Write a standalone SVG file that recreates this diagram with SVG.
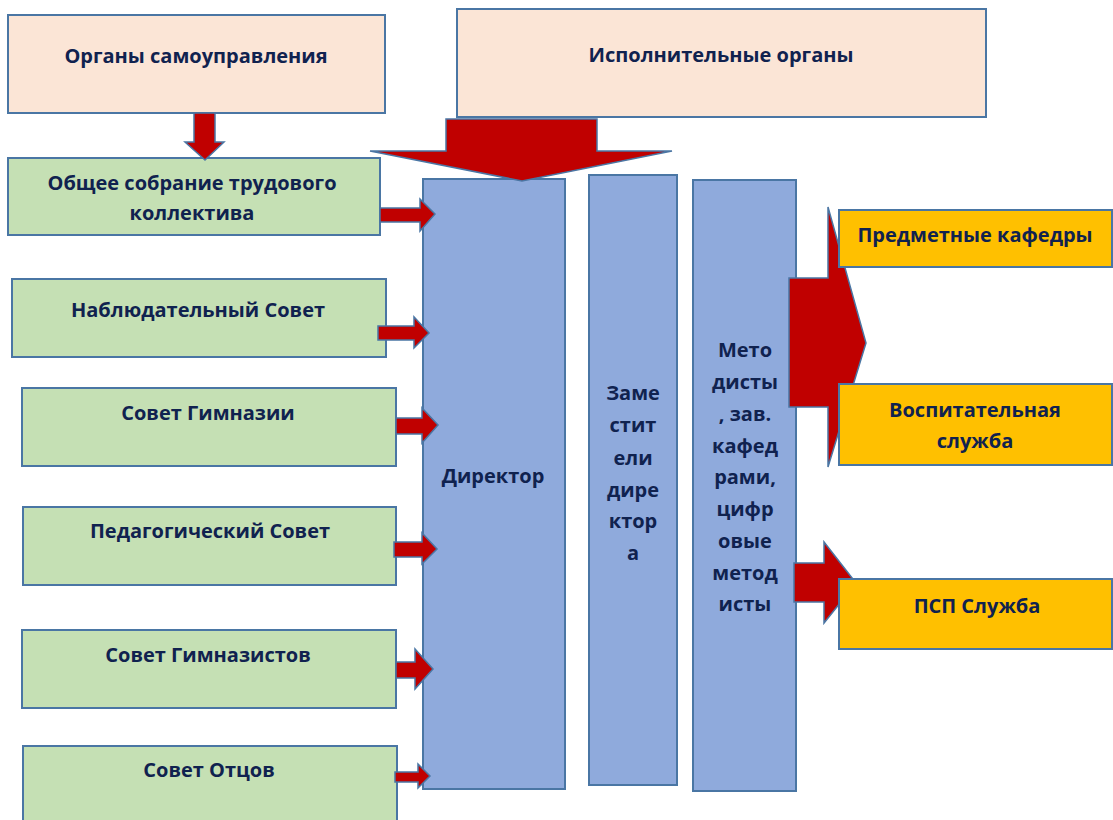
<svg xmlns="http://www.w3.org/2000/svg" width="1113" height="820" viewBox="0 0 1113 820">
<style>
.box{stroke:#4A76A4;stroke-width:2}
.peach{fill:#FBE5D6}
.green{fill:#C5E0B4}
.blue{fill:#8FAADC}
.orange{fill:#FFC000}
.arr{fill:#C00000;stroke:#4A76A4;stroke-width:1.5;stroke-linejoin:miter}
text{font-family:"Open Sans","Liberation Sans",sans-serif;font-weight:700;font-size:20px;fill:#10224F;text-anchor:middle}
</style>
<rect width="1113" height="820" fill="#FFFFFF"/>
<g id="n-organy">
<rect class="box peach" x="8" y="15" width="377" height="98"/>
<text x="196" y="63">Органы самоуправления</text>
</g>
<g id="n-ispoln">
<rect class="box peach" x="457" y="9" width="529" height="108"/>
<text x="721" y="62">Исполнительные органы</text>
</g>
<g id="n-obshee">
<rect class="box green" x="8" y="158" width="372" height="77"/>
<text x="192" y="190">Общее собрание трудового</text>
<text x="192" y="220">коллектива</text>
</g>
<g id="n-nabl">
<rect class="box green" x="12" y="279" width="374" height="78"/>
<text x="198" y="317">Наблюдательный Совет</text>
</g>
<g id="n-gimn">
<rect class="box green" x="22" y="388" width="374" height="78"/>
<text x="208" y="420">Совет Гимназии</text>
</g>
<g id="n-ped">
<rect class="box green" x="23" y="507" width="373" height="78"/>
<text x="210" y="538">Педагогический Совет</text>
</g>
<g id="n-gimnazisty">
<rect class="box green" x="22" y="630" width="374" height="78"/>
<text x="208" y="662">Совет Гимназистов</text>
</g>
<g id="n-otcy">
<rect class="box green" x="23" y="746" width="374" height="90"/>
<text x="209" y="777">Совет Отцов</text>
</g>
<g id="n-direktor">
<rect class="box blue" x="423" y="179" width="142" height="610"/>
<text x="493" y="483">Директор</text>
</g>
<g id="n-zam">
<rect class="box blue" x="589" y="175" width="88" height="610"/>
<text x="633" y="400">Заме</text>
<text x="633" y="432">стит</text>
<text x="633" y="465">ели</text>
<text x="633" y="497">дире</text>
<text x="633" y="528">ктор</text>
<text x="633" y="560">а</text>
</g>
<g id="n-metod">
<rect class="box blue" x="693" y="180" width="103" height="611"/>
<text x="745" y="357">Мето</text>
<text x="745" y="389">дисты</text>
<text x="745" y="421">, зав.</text>
<text x="745" y="453">кафед</text>
<text x="745" y="484">рами,</text>
<text x="745" y="516">цифр</text>
<text x="745" y="548">овые</text>
<text x="745" y="580">метод</text>
<text x="745" y="611">исты</text>
</g>
<g id="connectors">
<polygon class="arr" points="194,113 215,113 215,142 224,142 205,160 185,142 194,142"/>
<polygon class="arr" points="446,119 597,119 597,151 672,151 522,181 370,151 446,151"/>
<polygon class="arr" points="380,208 420,208 420,199 435,214 420,231 420,222 380,222"/>
<polygon class="arr" points="378,326 414,326 414,317 429,333 414,348 414,340 378,340"/>
<polygon class="arr" points="396,418 422,418 422,408 438,425 422,443 422,434 396,434"/>
<polygon class="arr" points="394,542 422,542 422,533 437,549 422,564 422,557 394,557"/>
<polygon class="arr" points="396,662 415,662 415,649 433,669 415,689 415,678 396,678"/>
<polygon class="arr" points="395,772 418,772 418,764 430,776 418,788 418,782 395,782"/>
<polygon class="arr" points="789,278 828,278 828,207 866,343 828,467 828,407 789,407"/>
<polygon class="arr" points="794,563 824,563 824,542 856,583 824,623 824,602 794,602"/>
</g>
<g id="n-predm">
<rect class="box orange" x="839" y="210" width="273" height="57"/>
<text x="975" y="242">Предметные кафедры</text>
</g>
<g id="n-vosp">
<rect class="box orange" x="839" y="384" width="273" height="81"/>
<text x="975" y="417">Воспитательная</text>
<text x="975" y="448">служба</text>
</g>
<g id="n-psp">
<rect class="box orange" x="839" y="579" width="273" height="70"/>
<text x="977" y="613">ПСП Служба</text>
</g>
</svg>
